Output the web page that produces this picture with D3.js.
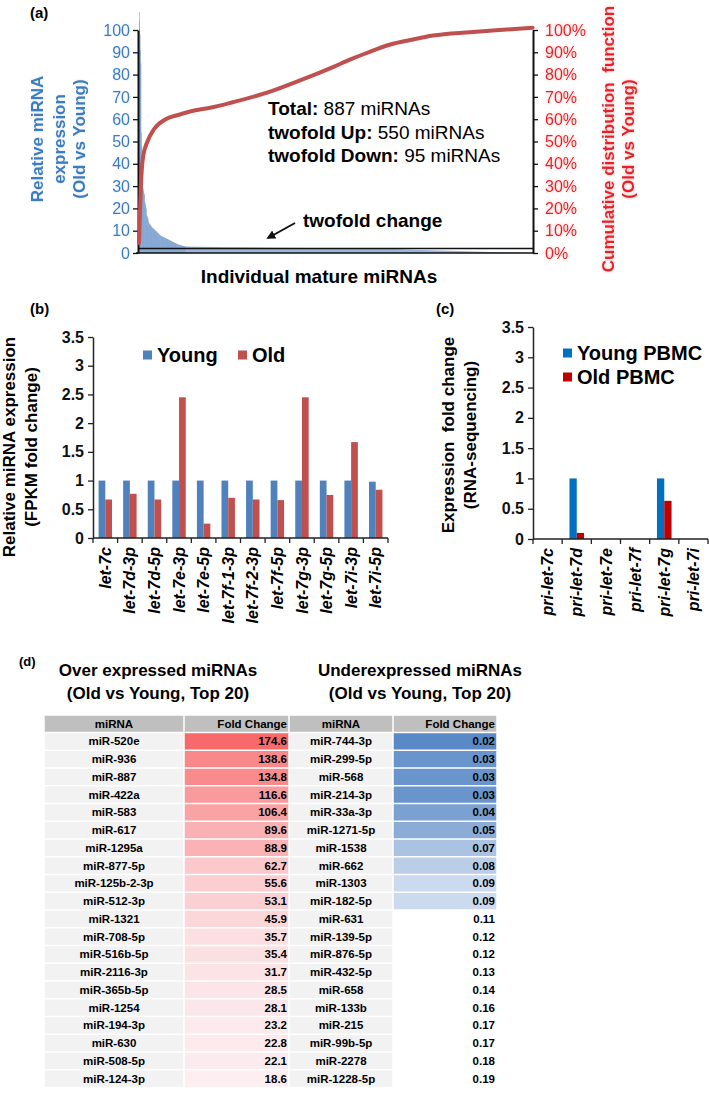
<!DOCTYPE html>
<html><head><meta charset="utf-8">
<script src="https://cdn.jsdelivr.net/npm/d3@7"></script>
<style>
body{margin:0;background:#fff}
svg{display:block}
text{font-family:"Liberation Sans",Arial,Helvetica,sans-serif}
</style>
</head><body>
<svg id="chart" width="709" height="1095"></svg>
<script>
// ---------------- DATA ----------------
// (a) ranked fold changes (Old vs Young), head of the distribution
const aTotal = 887;
const aHeadValues = [108,104,98,91,85,54,48,42,30,29,28,27,26,23,22,21,20,17,16.5,16,15.5,
  14,13.5,13,12.8,12.5,12.3,12,11.8,
  11.5,11.3,11.1,11,10.8,10.6,10.4,10.2,10,9.8,9.6,9.4,9.2,
  9,8.8,8.6,8.4,8.2,8,7.8,7.7,7.6,7.5,7.4,7.3,7.2,7.1,7,6.9,6.8,6.7,6.6,
  6.5,6.4,6.3,6.2,6.1,6,5.9,5.8,5.7,5.6,5.5,5.4,5.3,5.2,5.1,5,4.9,4.8,4.7,4.6,4.5,4.4,
  4.3,4.2,4.1,4,3.9,3.8,3.75,3.7,3.6,3.55,3.5,3.45,3.4,3.35,3.3,3.25,3.2,3.15,3.1,3.05,3,2.95,2.9];
// tail of the distribution (rank, fold change)
const aTailRanks  = [106, 200, 300, 400, 549, 620, 700, 791, 886];
const aTailValues = [2.9, 2.6, 2.4, 2.2, 2.0, 1.5, 1.0, 0.5, 0.02];
// cumulative distribution function (rank, %)
const aCdfRanks = [0, 4, 9, 19, 34, 60, 90, 127, 157, 213, 290, 364, 438, 476, 514, 566, 611, 662, 745, 812, 886];
const aCdfPct   = [4.5, 29, 43, 50, 55.6, 60, 62, 64, 65, 67.7, 72, 77.5, 83.5, 86.8, 89.8, 93.5, 95.5, 97.5, 99, 100, 101];
const aTwofold = 2;
const aLeftTicks = [0,10,20,30,40,50,60,70,80,90,100];
const aRightTicks = [0,10,20,30,40,50,60,70,80,90,100];

// (b)
const bCats = ["let-7c","let-7d-3p","let-7d-5p","let-7e-3p","let-7e-5p","let-7f-1-3p","let-7f-2-3p","let-7f-5p","let-7g-3p","let-7g-5p","let-7i-3p","let-7i-5p"];
const bYoung = [1,1,1,1,1,1,1,1,1,1,1,0.98];
const bOld   = [0.67,0.77,0.67,2.45,0.25,0.70,0.67,0.66,2.45,0.75,1.67,0.84];
const bTicks = [0,0.5,1,1.5,2,2.5,3,3.5];
const bSeries = ["Young","Old"];

// (c)
const cCats = ["pri-let-7c","pri-let-7d","pri-let-7e","pri-let-7f","pri-let-7g","pri-let-7i"];
const cYoung = [0,1,0,0,1,0];
const cOld   = [0,0.1,0,0,0.63,0];
const cTicks = [0,0.5,1,1.5,2,2.5,3,3.5];
const cSeries = ["Young PBMC","Old PBMC"];

// (d)
const overNames = ["miR-520e","miR-936","miR-887","miR-422a","miR-583","miR-617","miR-1295a","miR-877-5p","miR-125b-2-3p","miR-512-3p","miR-1321","miR-708-5p","miR-516b-5p","miR-2116-3p","miR-365b-5p","miR-1254","miR-194-3p","miR-630","miR-508-5p","miR-124-3p"];
const overFold  = [174.6,138.6,134.8,116.6,106.4,89.6,88.9,62.7,55.6,53.1,45.9,35.7,35.4,31.7,28.5,28.1,23.2,22.8,22.1,18.6];
const underNames = ["miR-744-3p","miR-299-5p","miR-568","miR-214-3p","miR-33a-3p","miR-1271-5p","miR-1538","miR-662","miR-1303","miR-182-5p","miR-631","miR-139-5p","miR-876-5p","miR-432-5p","miR-658","miR-133b","miR-215","miR-99b-5p","miR-2278","miR-1228-5p"];
const underFold  = [0.02,0.03,0.03,0.03,0.04,0.05,0.07,0.08,0.09,0.09,0.11,0.12,0.12,0.13,0.14,0.16,0.17,0.17,0.18,0.19];
const tableHeaders = ["miRNA","Fold Change","miRNA","Fold Change"];

// ---------------- DRAW ----------------
const svg = d3.select("#chart");
const defs = svg.append("defs");
const fR = defs.append("filter").attr("id","glowR").attr("x","-30%").attr("y","-60%").attr("width","160%").attr("height","220%");
fR.append("feGaussianBlur").attr("in","SourceAlpha").attr("stdDeviation",1.6).attr("result","b");
fR.append("feFlood").attr("flood-color","#f59a9a").attr("flood-opacity",0.75);
fR.append("feComposite").attr("in2","b").attr("operator","in").attr("result","g");
const fm = fR.append("feMerge"); fm.append("feMergeNode").attr("in","g"); fm.append("feMergeNode").attr("in","SourceGraphic");
const fB = defs.append("filter").attr("id","glowB").attr("x","-30%").attr("y","-60%").attr("width","160%").attr("height","220%");
fB.append("feGaussianBlur").attr("in","SourceAlpha").attr("stdDeviation",1.2).attr("result","b");
fB.append("feFlood").attr("flood-color","#b9d0ea").attr("flood-opacity",0.6);
fB.append("feComposite").attr("in2","b").attr("operator","in").attr("result","g");
const fm2 = fB.append("feMerge"); fm2.append("feMergeNode").attr("in","g"); fm2.append("feMergeNode").attr("in","SourceGraphic");
defs.append("clipPath").attr("id","clipA").append("rect").attr("x",130).attr("y",11).attr("width",410).attr("height",243);

const blueA = "#3a7dc0", redA = "#e3222a";

// ----- panel (a)
const ax = d3.scaleLinear().domain([0, aTotal]).range([139, 533]);
const ayL = d3.scaleLinear().domain([0, 100]).range([253, 30]);
const ayR = d3.scaleLinear().domain([0, 100]).range([253, 30]);
const axisX = 138;
const gA = svg.append("g");
gA.append("text").attr("x",30).attr("y",18).attr("font-size",15).attr("font-weight","bold").text("(a)");

const barsA = gA.append("g").attr("clip-path","url(#clipA)");
const bw1 = ax(1) - ax(0);
barsA.selectAll("rect").data(aHeadValues).join("rect")
  .attr("x",(d,i)=>ax(i)).attr("width",bw1)
  .attr("y",d=>ayL(d)).attr("height",d=>ayL(0)-ayL(d))
  .attr("fill","#5a88c4");
const tail = aTailRanks.map((r,i)=>[r,aTailValues[i]]);
barsA.append("path").datum(tail)
  .attr("d", d3.area().x(d=>ax(d[0])).y0(ayL(0)).y1(d=>ayL(d[1])))
  .attr("fill","#9ab6de");

// twofold line and baseline
gA.append("line").attr("x1",axisX).attr("x2",ax(aTotal)).attr("y1",ayL(aTwofold)).attr("y2",ayL(aTwofold))
  .attr("stroke","#111").attr("stroke-width",1.6);
gA.append("line").attr("x1",axisX-2).attr("x2",ax(aTotal)).attr("y1",ayL(0)).attr("y2",ayL(0))
  .attr("stroke","#111").attr("stroke-width",1.6);

// left axis
const axL = gA.append("g").attr("transform",`translate(${axisX},0)`)
  .call(d3.axisLeft(ayL).tickValues(aLeftTicks).tickSize(5).tickSizeOuter(0).tickPadding(3));
axL.select(".domain").attr("stroke","#111").attr("stroke-width",2);
axL.selectAll(".tick line").attr("stroke","#111").attr("stroke-width",1.3);
axL.selectAll(".tick text").attr("fill",blueA).attr("font-size",16).attr("font-family",null).attr("filter","url(#glowB)");
// right axis
const axR = gA.append("g").attr("transform",`translate(${ax(aTotal)},0)`)
  .call(d3.axisRight(ayR).tickValues(aRightTicks).tickFormat(d=>d+"%").tickSize(5).tickSizeOuter(0).tickPadding(7));
axR.select(".domain").attr("stroke","#111").attr("stroke-width",2);
axR.selectAll(".tick line").attr("stroke","#111").attr("stroke-width",1.3);
axR.selectAll(".tick text").attr("fill",redA).attr("font-size",16).attr("font-family",null).attr("filter","url(#glowR)");

// CDF line
const cdf = aCdfRanks.map((r,i)=>[r,aCdfPct[i]]);
gA.append("path").datum(cdf)
  .attr("d", d3.line().curve(d3.curveMonotoneX).x(d=>ax(d[0])).y(d=>ayR(d[1])))
  .attr("fill","none").attr("stroke","#c0504d").attr("stroke-width",4).attr("stroke-linecap","round");

// axis titles
const ltitle = gA.append("text").attr("transform","translate(0,139) rotate(-90)")
  .attr("text-anchor","middle").attr("font-weight","bold").attr("font-size",17).attr("fill",blueA).attr("filter","url(#glowB)");
[["Relative miRNA",43],["expression",65],["(Old vs Young)",85]].forEach(([t,x])=>{
  ltitle.append("tspan").attr("x",0).attr("y",x).text(t);
});
const rtitle = gA.append("text").attr("transform","translate(0,139) rotate(-90)")
  .attr("text-anchor","middle").attr("font-weight","bold").attr("font-size",17).attr("fill",redA).attr("filter","url(#glowR)");
[["Cumulative distribution  function",614],["(Old vs Young)",634]].forEach(([t,x])=>{
  rtitle.append("tspan").attr("x",0).attr("y",x).style("white-space","pre").text(t);
});
gA.append("text").attr("x",319).attr("y",283).attr("text-anchor","middle").attr("font-size",19).attr("font-weight","bold").text("Individual mature miRNAs");

// annotation
const ann = [["Total:"," 887 miRNAs",115],["twofold Up:"," 550 miRNAs",139],["twofold Down:"," 95 miRNAs",162]];
ann.forEach(([b,r,y])=>{
  const t = gA.append("text").attr("x",268).attr("y",y).attr("font-size",19);
  t.append("tspan").attr("font-weight","bold").text(b);
  t.append("tspan").style("white-space","pre").text(r);
});
gA.append("text").attr("x",303).attr("y",227).attr("font-size",19).attr("font-weight","bold").text("twofold change");
defs.append("marker").attr("id","arr").attr("viewBox","0 0 10 10").attr("refX",8).attr("refY",5)
  .attr("markerWidth",4.5).attr("markerHeight",4.5).attr("orient","auto")
  .append("path").attr("d","M0,0 L10,5 L0,10 z").attr("fill","#111");
gA.append("line").attr("x1",295).attr("y1",223).attr("x2",268).attr("y2",238)
  .attr("stroke","#111").attr("stroke-width",2).attr("marker-end","url(#arr)");

// ----- generic grouped bar panel
function groupPanel(opt){
  const g = svg.append("g");
  const x = d3.scaleBand().domain(opt.cats).range(opt.xr).padding(0);
  const xs = d3.scaleBand().domain(opt.series).range([0, x.bandwidth()]).paddingInner(0).paddingOuter(opt.po);
  const y = d3.scaleLinear().domain([0,3.5]).range(opt.yr);
  opt.cats.forEach((c,i)=>{
    const vals = [opt.v1[i], opt.v2[i]];
    vals.forEach((v,k)=>{
      if (v<=0) return;
      g.append("rect").attr("x",x(c)+xs(opt.series[k])).attr("width",xs.bandwidth())
        .attr("y",y(v)).attr("height",y(0)-y(v)).attr("fill",opt.colors[k]);
    });
  });
  const ya = g.append("g").attr("transform",`translate(${opt.xr[0]},0)`)
    .call(d3.axisLeft(y).tickValues(opt.ticks).tickFormat(d3.format("")).tickSize(5).tickSizeOuter(0).tickPadding(4));
  ya.select(".domain").attr("stroke","#222").attr("stroke-width",1.5);
  ya.selectAll(".tick line").attr("stroke","#222").attr("stroke-width",1.3);
  ya.selectAll(".tick text").attr("font-size",16).attr("font-weight","bold").attr("fill","#111").attr("font-family",null);
  g.append("line").attr("x1",opt.xr[0]).attr("x2",opt.xr[1]).attr("y1",y(0)).attr("y2",y(0)).attr("stroke","#222").attr("stroke-width",1.5);
  const bounds = opt.cats.map(c=>x(c)).concat([opt.xr[1]]);
  g.selectAll(".bt").data(bounds).join("line").attr("x1",d=>d).attr("x2",d=>d)
    .attr("y1",y(0)).attr("y2",y(0)+5).attr("stroke","#222").attr("stroke-width",1.3);
  g.selectAll(".xl").data(opt.cats).join("text")
    .attr("transform",d=>`translate(${x(d)+x.bandwidth()/2},${y(0)+9}) rotate(-90)`)
    .attr("text-anchor","end").attr("dy","0.35em").attr("font-size",16)
    .attr("font-weight","bold").attr("font-style","italic").text(d=>d);
  const t = g.append("text").attr("transform",`translate(0,${opt.tcy}) rotate(-90)`)
    .attr("text-anchor","middle").attr("font-weight","bold").attr("font-size",17);
  opt.title.forEach(([s,xx])=>t.append("tspan").attr("x",0).attr("y",xx).style("white-space","pre").text(s));
  opt.legend.forEach((L,k)=>{
    g.append("rect").attr("x",L[0]).attr("y",L[1]-4.5).attr("width",9).attr("height",9).attr("fill",opt.colors[k]);
    g.append("text").attr("x",L[0]+14).attr("y",L[1]).attr("dy","0.35em").attr("font-size",20).attr("font-weight","bold").text(opt.series[k]);
  });
  return g;
}

svg.append("text").attr("x",30).attr("y",314).attr("font-size",15).attr("font-weight","bold").text("(b)");
svg.append("text").attr("x",436).attr("y",314).attr("font-size",15).attr("font-weight","bold").text("(c)");

groupPanel({cats:bCats, series:bSeries, v1:bYoung, v2:bOld, colors:["#4f81bd","#c0504d"],
  xr:[93,388], yr:[538,337], po:0.83, ticks:bTicks, tcy:447,
  title:[["Relative miRNA expression",15],["(FPKM fold change)",37]],
  legend:[[143,355],[238,355]]});
groupPanel({cats:cCats, series:cSeries, v1:cYoung, v2:cOld, colors:["#0070c0","#c00000"],
  xr:[533,708], yr:[539,327], po:1.0, ticks:cTicks, tcy:435,
  title:[["Expression  fold change",454],["(RNA-sequencing)",476]],
  legend:[[563,353],[563,377]]});

// ----- panel (d) table
const gD = svg.append("g");
gD.append("text").attr("x",19).attr("y",666).attr("font-size",13).attr("font-weight","bold").text("(d)");
[["Over expressed miRNAs",158,676],["(Old vs Young, Top 20)",158,699],["Underexpressed miRNAs",420,676],["(Old vs Young, Top 20)",420,699]]
  .forEach(([s,x,y])=>gD.append("text").attr("x",x).attr("y",y).attr("text-anchor","middle").attr("font-size",17).attr("font-weight","bold").text(s));

const colX = [44,184,289,393,497];
const headTop = 715, headH = 17.5, rowH = 17.75, rowTop = headTop + headH;
const redScale = d3.scaleLinear().domain([2, d3.max(overFold)]).range(["#fcfcff","#f8696b"]);
const blueScale = d3.scaleLinear().domain([d3.min(underFold), 0.12]).range(["#5a8ac6","#fcfcff"]);
const blueLimit = 0.1;
const gap = 0.75;
// header
tableHeaders.forEach((h,j)=>{
  gD.append("rect").attr("x",colX[j]+gap).attr("y",headTop+gap).attr("width",colX[j+1]-colX[j]-2*gap).attr("height",headH-2*gap).attr("fill","#bfbfbf");
  const isNum = j%2===1;
  gD.append("text").attr("x",isNum?colX[j+1]-2:(colX[j]+colX[j+1])/2).attr("y",headTop+headH/2).attr("dy","0.35em")
    .attr("text-anchor",isNum?"end":"middle").attr("font-size",11.5).attr("font-weight","bold").text(h);
});
const rows = overNames.map((n,i)=>[n, overFold[i], underNames[i], underFold[i]]);
rows.forEach((r,i)=>{
  const y0 = rowTop + i*rowH;
  const fills = ["#f2f2f2", redScale(r[1]), "#f2f2f2", r[3] < blueLimit ? blueScale(r[3]) : "#ffffff"];
  r.forEach((v,j)=>{
    gD.append("rect").attr("x",colX[j]+gap).attr("y",y0+gap).attr("width",colX[j+1]-colX[j]-2*gap).attr("height",rowH-2*gap).attr("fill",fills[j]);
    const isNum = j%2===1;
    gD.append("text").attr("x",isNum?colX[j+1]-2:(colX[j]+colX[j+1])/2).attr("y",y0+rowH/2).attr("dy","0.35em")
      .attr("text-anchor",isNum?"end":"middle").attr("font-size",11.5).attr("font-weight","bold")
      .text(isNum ? (j===1 ? d3.format(".1f")(v) : d3.format(".2f")(v)) : v);
  });
});
</script>
</body></html>
